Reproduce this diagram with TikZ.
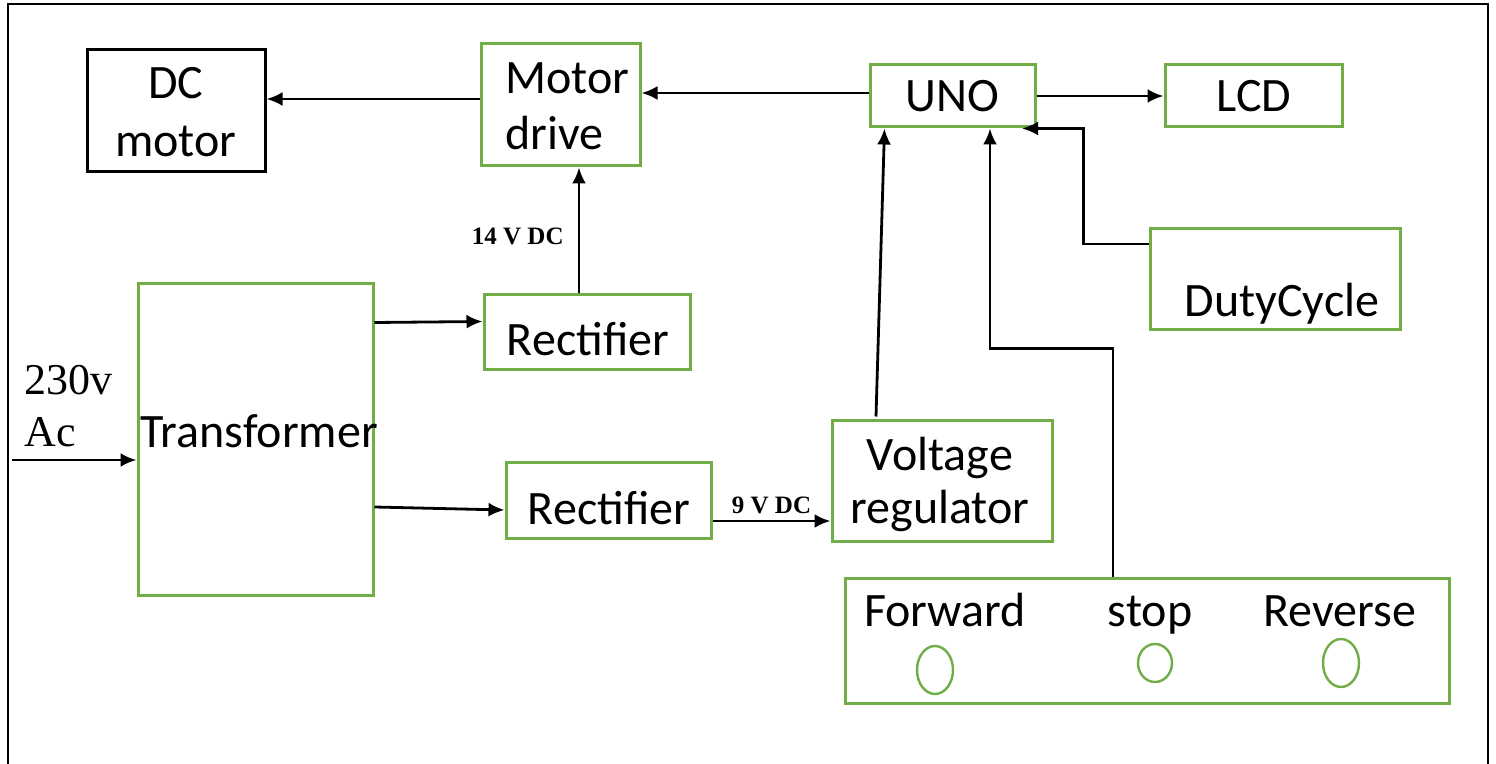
\documentclass[tikz,border=0pt]{standalone}
\usepackage{fontspec}
\setmainfont{Carlito}
\newfontfamily\tnr{Liberation Serif}
\usetikzlibrary{arrows.meta}
\definecolor{boxgreen}{RGB}{112,173,71}
\tikzset{
  gbox/.style={draw=boxgreen,line width=1.5pt,inner sep=0pt},
  kbox/.style={gbox,draw=black},
  lbl/.style={inner sep=0pt,anchor=base,font=\fontsize{24}{29}\selectfont},
  vlbl/.style={inner sep=0pt,font=\tnr\bfseries\fontsize{12.5}{14}\selectfont},
  acl/.style={inner sep=0pt,anchor=base west,font=\tnr\fontsize{22}{24}\selectfont},
  led/.style={boxgreen,line width=1.2pt},
  arr/.style={line width=1.4pt,-{Latex[length=8pt,width=7pt]}}
}
\begin{document}
\begin{tikzpicture}[x=0.5pt,y=-0.5pt]
      \useasboundingbox (0,0) rectangle (1496,764);
      \draw[line width=1pt] (8,770) -- (8,4) -- (1488,4) -- (1488,770);
      \node[kbox,minimum width=89pt,minimum height=61pt] (dcmotor) at (176,111) {};
      \node[lbl,align=center] (dctext) at (176,157) {DC\\motor};
      \node[gbox,minimum width=79.5pt,minimum height=61pt] (motordrive) at (560.5,105) {};
      \node[lbl,anchor=base west,align=left,font=\fontsize{24}{28}\selectfont] (drivetext) at (505,150) {Motor\\drive};
      \node[gbox,minimum width=82.5pt,minimum height=31pt] (uno) at (952.5,96) {};
      \node[lbl] (unotext) at (952,111.5) {UNO};
      \node[gbox,minimum width=88.5pt,minimum height=31pt] (lcd) at (1253.5,96) {};
      \node[lbl] (lcdtext) at (1254,111.5) {LCD};
      \node[gbox,minimum width=125pt,minimum height=50.5pt] (duty) at (1275,279.5) {};
      \node[lbl] (dutytext) at (1282,317) {DutyCycle};
      \node[gbox,minimum width=117.5pt,minimum height=156pt] (transformer) at (255.5,440) {};
      \node[lbl,anchor=base west] (transtext) at (140,447.5) {Transformer};
      \node[gbox,minimum width=103pt,minimum height=37.5pt] (rectA) at (587,332.5) {};
      \node[lbl] (rectAtext) at (588,356) {Rectifier};
      \node[gbox,minimum width=102.5pt,minimum height=38pt] (rectB) at (608.5,501) {};
      \node[lbl] (rectBtext) at (609,525) {Rectifier};
      \node[gbox,minimum width=110pt,minimum height=60.5pt] (vreg) at (942,481.5) {};
      \node[lbl,align=center,font=\fontsize{24}{26.5}\selectfont] (vregtext) at (940,524) {Voltage\\regulator};
      \node[gbox,minimum width=302pt,minimum height=62.5pt] (panel) at (1147,641.5) {};
      \node[lbl] (fwd) at (945,627) {Forward};
      \node[lbl] (stop) at (1150,627) {stop};
      \node[lbl] (rev) at (1340,627) {Reverse};
      \draw[led] (935,670) ellipse [x radius=9pt,y radius=12pt];
      \draw[led] (1155,663) ellipse [x radius=8.5pt,y radius=9.5pt];
      \draw[led] (1341,663) ellipse [x radius=9pt,y radius=12pt];
      \coordinate (acin) at (12,460);
      \node[acl] (volt) at (24,395) {230v};
      \node[acl] (ac) at (24,447) {Ac};
      \draw[arr] (acin) -- (acin -| transformer.west);
      \draw[arr] ([yshift=3pt]motordrive.west) -- ([yshift=3pt]motordrive.west -| dcmotor.east);
      \draw[arr] ([yshift=1.5pt]uno.west) -- ([yshift=1.5pt]uno.west -| motordrive.east);
      \draw[arr] (uno.east) -- (lcd.west);
      \draw[arr] ([xshift=-4pt]rectA.north) --
        node[vlbl,pos=0.45,left=7pt]{14 V DC} ([xshift=-4pt]rectA.north |- motordrive.south);
      \draw[arr] ([yshift=5pt]transformer.east |- rectA.west) -- ([yshift=5.5pt]rectA.west);
      \draw[arr] ([yshift=-3pt]transformer.east |- rectB.west) -- ([yshift=-4.5pt]rectB.west);
      \draw[arr] ([yshift=-10pt]rectB.east) --
        node[vlbl,above=3pt]{9 V DC} ([yshift=-10pt]rectB.east -| vreg.west);
      \draw[arr] ([xshift=-33pt,yshift=1.5pt]vreg.north) -- ([xshift=-34pt]uno.south);
      \draw[arr] ([xshift=-17pt]panel.north) -- ++(0,-229) -| ([xshift=18.75pt]uno.south);
      \draw[arr] ([yshift=17.75pt]duty.west) -- ++(-65,0) |- ([xshift=34.75pt]uno.south);
    \end{tikzpicture}
\end{document}
